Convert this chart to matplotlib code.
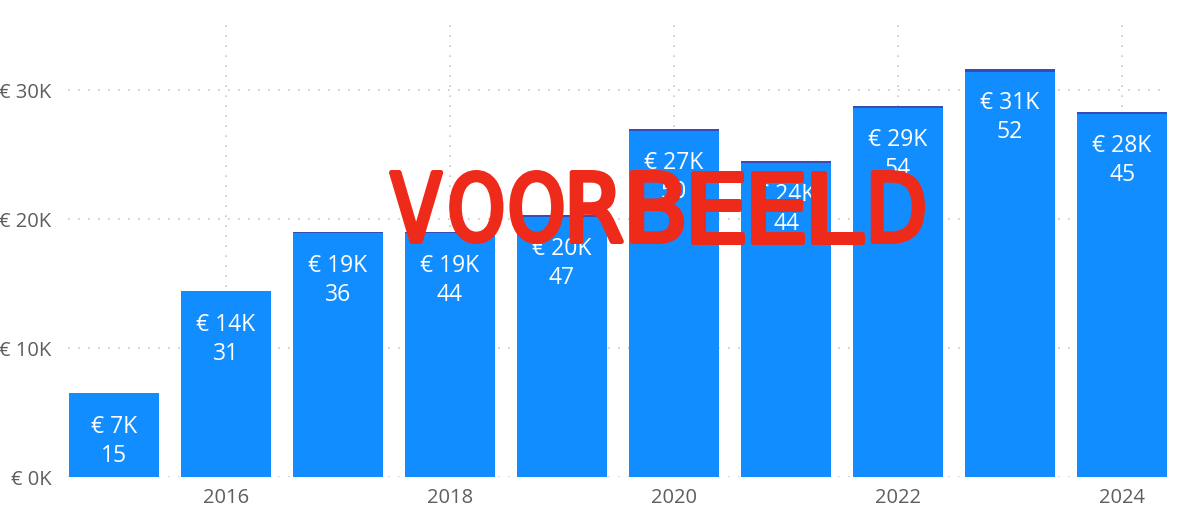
import matplotlib
matplotlib.use('Agg')
import matplotlib.pyplot as plt
from matplotlib.textpath import TextPath
from matplotlib.patches import PathPatch
from matplotlib.font_manager import FontProperties
from matplotlib.transforms import Affine2D, IdentityTransform
from matplotlib.ticker import FuncFormatter

# ---- data ----
years = [2015, 2016, 2017, 2018, 2019, 2020, 2021, 2022, 2023, 2024]
amount = [6550, 14400, 18900, 18900, 20200, 26800, 24350, 28600, 31400, 28150]
other = [0, 40, 100, 100, 120, 150, 150, 200, 200, 150]
counts = [15, 31, 36, 44, 47, 50, 44, 54, 52, 45]
ytick_vals = [0, 10000, 20000, 30000]
xtick_years = [2016, 2018, 2020, 2022, 2024]
watermark = "VOORBEELD"

FONT = ['Open Sans', 'DejaVu Sans']
W, H = 1194, 516
fig = plt.figure(figsize=(W / 100, H / 100), dpi=100)
ax = fig.add_axes([68 / W, 1 - 477.3 / H, 1100 / W, (477.3 - 23) / H])

ax.bar(years, amount, width=0.8, color='#118DFF', zorder=2)
ax.bar(years, other, bottom=amount, width=0.8, color='#3A4BB8', zorder=2)

for x, v, o, c in zip(years, amount, other, counts):
    top = v + o
    ax.annotate(f"€ {int(v / 1000 + 0.5)}K", xy=(x, top), xytext=(0, -34 * 0.72),
                textcoords='offset points', ha='center', va='center',
                color='white', fontsize=16.5, family=FONT, zorder=3)
    ax.annotate(str(c), xy=(x, top), xytext=(0, -63 * 0.72),
                textcoords='offset points', ha='center', va='center',
                color='white', fontsize=16.5, family=FONT, zorder=3)

ax.set_xlim(2014.59, 2024.41)
ax.set_ylim(0, 35200)
ax.set_yticks(ytick_vals)
ax.yaxis.set_major_formatter(FuncFormatter(lambda v, p: f"€ {int(v / 1000)}K"))
ax.set_xticks(xtick_years)
ax.set_xticklabels([str(y) for y in xtick_years])
for lab in ax.get_xticklabels() + ax.get_yticklabels():
    lab.set_family(FONT)
    lab.set_fontsize(14.5)
    lab.set_color('#605E5C')
ax.tick_params(axis='both', length=0)
ax.tick_params(axis='y', pad=12)
ax.tick_params(axis='x', pad=8)
for s in ax.spines.values():
    s.set_visible(False)
ax.grid(True, axis='both', color='#C8C6C4', linestyle=(0, (1, 5)), linewidth=1.2, zorder=1)
ax.set_axisbelow(True)

# ---- watermark (letter by letter, marker-like) ----
fp = FontProperties(family='DejaVu Sans', weight='normal')
lw_px = 5
gap = 3
left, right = 386, 928
ybot, ytop = H - 244, H - 170
cell = (right - left) / len(watermark)
for i, ch in enumerate(watermark):
    tp = TextPath((0, 0), ch, size=100, prop=fp)
    ext = tp.get_extents()
    cx0 = left + i * cell + lw_px / 2 + gap
    cx1 = left + (i + 1) * cell - lw_px / 2 - gap
    y0, y1 = ybot + lw_px / 2, ytop - lw_px / 2
    tr = (Affine2D().translate(-ext.x0, -ext.y0)
          .scale((cx1 - cx0) / ext.width, (y1 - y0) / ext.height)
          .translate(cx0, y0))
    path = tr.transform_path(tp)
    patch = PathPatch(path, facecolor='#EE2A1B', edgecolor='#EE2A1B', linewidth=lw_px * 0.72,
                      joinstyle='round', capstyle='round', transform=IdentityTransform(), zorder=10)
    fig.add_artist(patch)

fig.savefig('out.png', dpi=100)
